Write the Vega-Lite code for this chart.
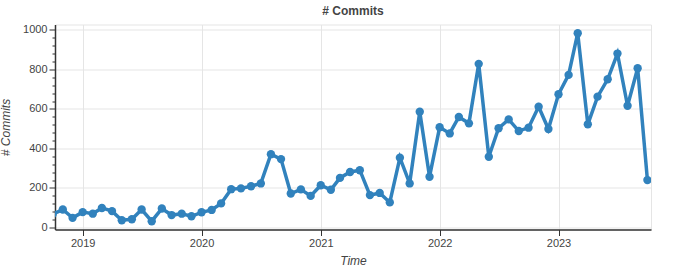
{
  "$schema": "https://vega.github.io/schema/vega-lite/v6.json",
  "autosize": "none",
  "width": 596,
  "height": 205,
  "padding": {"left": 55, "top": 24.5, "right": 27, "bottom": 40.5},
  "background": "white",
  "config": {
    "font": "Liberation Sans",
    "view": {"stroke": "#e5e5e5", "strokeWidth": 1},
    "axis": {"labelColor": "#444", "labelFontSize": 11, "titleColor": "#444", "titleFontSize": 12, "titleFontStyle": "italic", "titleFontWeight": "normal", "domainColor": "#333", "tickColor": "#333", "gridColor": "#e5e5e5"}
  },
  "title": {"text": "# Commits", "fontSize": 12, "fontWeight": "bold", "color": "#444", "offset": 6, "anchor": "middle"},
  "data": {"values": [
    {"t": "2018-10-01", "n": 68},
    {"t": "2018-11-01", "n": 91},
    {"t": "2018-12-01", "n": 49},
    {"t": "2019-01-01", "n": 78},
    {"t": "2019-02-01", "n": 70},
    {"t": "2019-03-01", "n": 99},
    {"t": "2019-04-01", "n": 83},
    {"t": "2019-05-01", "n": 37},
    {"t": "2019-06-01", "n": 42},
    {"t": "2019-07-01", "n": 91},
    {"t": "2019-08-01", "n": 32},
    {"t": "2019-09-01", "n": 96},
    {"t": "2019-10-01", "n": 63},
    {"t": "2019-11-01", "n": 70},
    {"t": "2019-12-01", "n": 57},
    {"t": "2020-01-01", "n": 77},
    {"t": "2020-02-01", "n": 89},
    {"t": "2020-03-01", "n": 122},
    {"t": "2020-04-01", "n": 194},
    {"t": "2020-05-01", "n": 198},
    {"t": "2020-06-01", "n": 209},
    {"t": "2020-07-01", "n": 223},
    {"t": "2020-08-01", "n": 371},
    {"t": "2020-09-01", "n": 346},
    {"t": "2020-10-01", "n": 172},
    {"t": "2020-11-01", "n": 193},
    {"t": "2020-12-01", "n": 160},
    {"t": "2021-01-01", "n": 214},
    {"t": "2021-02-01", "n": 191},
    {"t": "2021-03-01", "n": 251},
    {"t": "2021-04-01", "n": 281},
    {"t": "2021-05-01", "n": 290},
    {"t": "2021-06-01", "n": 164},
    {"t": "2021-07-01", "n": 175},
    {"t": "2021-08-01", "n": 127},
    {"t": "2021-09-01", "n": 353},
    {"t": "2021-10-01", "n": 223},
    {"t": "2021-11-01", "n": 586},
    {"t": "2021-12-01", "n": 257},
    {"t": "2022-01-01", "n": 507},
    {"t": "2022-02-01", "n": 476},
    {"t": "2022-03-01", "n": 559},
    {"t": "2022-04-01", "n": 527},
    {"t": "2022-05-01", "n": 828},
    {"t": "2022-06-01", "n": 358},
    {"t": "2022-07-01", "n": 502},
    {"t": "2022-08-01", "n": 547},
    {"t": "2022-09-01", "n": 488},
    {"t": "2022-10-01", "n": 505},
    {"t": "2022-11-01", "n": 611},
    {"t": "2022-12-01", "n": 498},
    {"t": "2023-01-01", "n": 674},
    {"t": "2023-02-01", "n": 772},
    {"t": "2023-03-01", "n": 983},
    {"t": "2023-04-01", "n": 522},
    {"t": "2023-05-01", "n": 662},
    {"t": "2023-06-01", "n": 750},
    {"t": "2023-07-01", "n": 880},
    {"t": "2023-08-01", "n": 616},
    {"t": "2023-09-01", "n": 806},
    {"t": "2023-10-01", "n": 240}
  ]},
  "encoding": {
    "x": {"field": "t", "type": "temporal", "title": "Time",
      "scale": {"domain": ["2018-10-08", "2023-10-12"], "nice": false},
      "axis": {"format": "%Y", "tickCount": {"interval": "year", "step": 1}, "tickSize": 6, "labelPadding": 2, "titleY": 26, "labelFlush": false, "domainWidth": 1.5}},
    "y": {"field": "n", "type": "quantitative", "title": "# Commits",
      "scale": {"domain": [-10, 1027], "nice": false, "zero": false},
      "axis": {"values": [0,40,80,120,160,200,240,280,320,360,400,440,480,520,560,600,640,680,720,760,800,840,880,920,960,1000],
        "format": "d",
        "labelExpr": "datum.value % 200 === 0 ? datum.label : ''",
        "tickSize": {"condition": {"test": "datum.value % 200 === 0", "value": 6}, "value": 3},
        "gridOpacity": {"condition": {"test": "datum.value % 200 === 0", "value": 1}, "value": 0},
        "labelPadding": 2, "titleX": -43, "domainWidth": 1.5}}
  },
  "layer": [
    {"mark": {"type": "line", "color": "#3182bd", "strokeWidth": 3.5, "clip": true}},
    {"mark": {"type": "point", "filled": true, "color": "#3182bd", "opacity": 1, "size": 70, "clip": true}}
  ]
}
